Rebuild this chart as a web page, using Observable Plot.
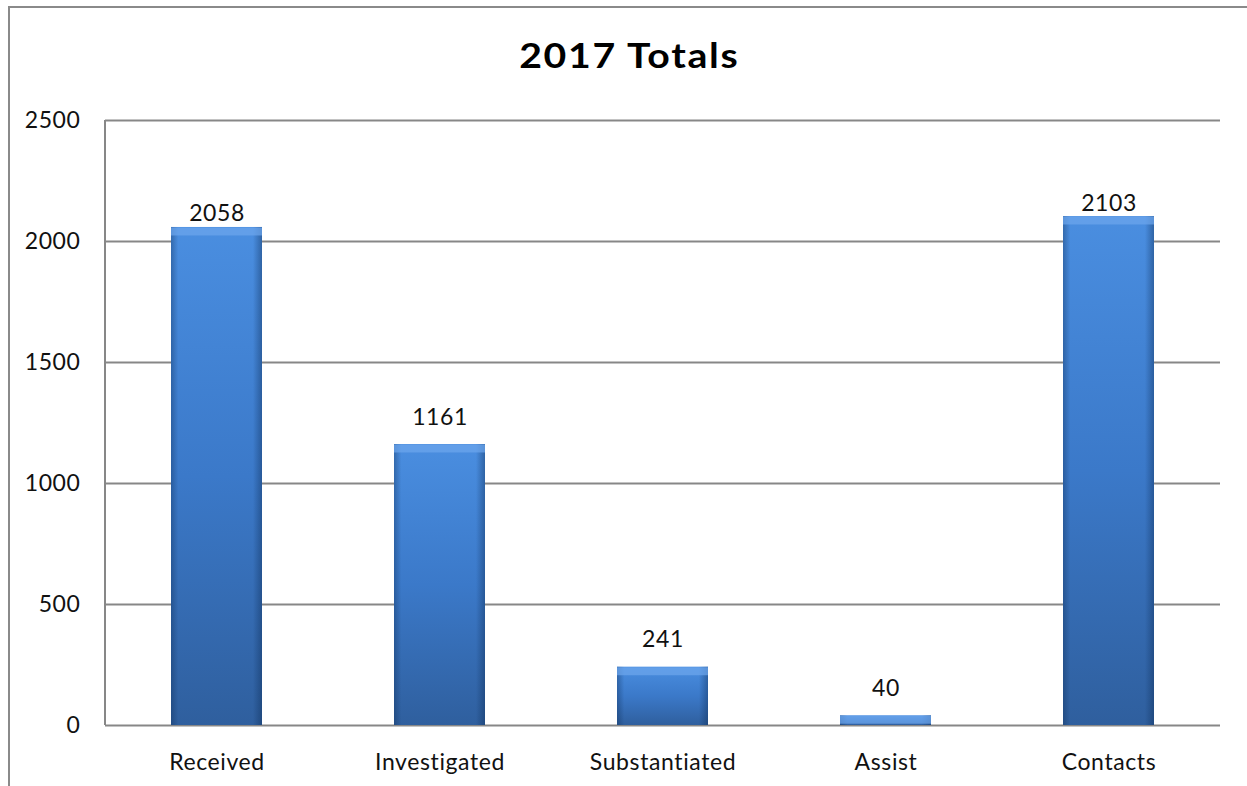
<!DOCTYPE html>
<html>
<head>
<meta charset="utf-8">
<script src="https://cdn.jsdelivr.net/npm/d3@7"></script>
<script src="https://cdn.jsdelivr.net/npm/@observablehq/plot@0.6"></script>
<style>
  html, body { margin: 0; padding: 0; background: #fff; overflow: hidden; }
  #page { position: relative; width: 1247px; height: 786px; }
  #frame { position: absolute; left: 8px; top: 6px; width: 1300px; height: 900px; border: 2px solid #8a8a8a; box-sizing: border-box; }
  #title { position: absolute; left: 0; top: 37px; width: 1258px; text-align: center; font-family: Lato, sans-serif; font-weight: 700; font-size: 35px; letter-spacing: 1.5px; line-height: 1; color: #000; }
  #title span { display: inline-block; transform: scaleX(1.12); }
  #chart { position: absolute; left: 0; top: 100px; }
  #chart svg text { letter-spacing: 0.6px; }
</style>
</head>
<body>
<div id="page">
  <div id="frame"></div>
  <div id="title"><span>2017 Totals</span></div>
  <div id="chart"></div>
</div>
<script>
const categories = ["Received", "Investigated", "Substantiated", "Assist", "Contacts"];
const values = [2058, 1161, 241, 40, 2103];
const yTicks = [0, 500, 1000, 1500, 2000, 2500];

const data = categories.map((c, i) => ({category: c, value: values[i]}));
const tall = data.filter(d => d.value >= 2000);
const short = data.filter(d => d.value < 2000);

const leftLine = (index, scales, values, dimensions) => {
  const {marginLeft, marginTop, height, marginBottom} = dimensions;
  const g = d3.create("svg:line")
    .attr("x1", marginLeft).attr("x2", marginLeft)
    .attr("y1", marginTop).attr("y2", height - marginBottom)
    .attr("stroke", "#878787").attr("stroke-width", 2);
  return g.node();
};

const chart = Plot.plot({
  width: 1247,
  height: 686,
  marginTop: 20,
  marginLeft: 105,
  marginRight: 27,
  marginBottom: 61,
  style: {fontFamily: "Lato, sans-serif", fontSize: "23px", color: "#111", background: "transparent"},
  x: {domain: categories, paddingInner: 0.59, paddingOuter: 0.295, label: null, tickSize: 0, tickPadding: 28},
  y: {domain: [0, 2500], ticks: yTicks, tickFormat: "d", label: null, tickSize: 0, tickPadding: 25},
  marks: [
    Plot.ruleY(yTicks, {stroke: "#878787", strokeWidth: 2}),
    leftLine,
    Plot.barY(data, {x: "category", y: "value", fill: "url(#vgrad)"}),
    Plot.barY(data, {x: "category", y: "value", fill: "url(#hgrad)"}),
    Plot.tickY(data, {x: "category", y: "value", stroke: "#6ea7ec", strokeOpacity: 0.7, strokeWidth: 8, dy: 4}),
    Plot.text(tall, {x: "category", y: "value", text: d => String(d.value), lineAnchor: "bottom", dy: -6, fill: "#111"}),
    Plot.text(short, {x: "category", y: "value", text: d => String(d.value), lineAnchor: "bottom", dy: -20, fill: "#111"})
  ]
});

const defs = d3.create("svg:defs");
const vg = defs.append("linearGradient").attr("id", "vgrad").attr("x1", 0).attr("y1", 0).attr("x2", 0).attr("y2", 1);
vg.append("stop").attr("offset", "0%").attr("stop-color", "#4a8ee0");
vg.append("stop").attr("offset", "50%").attr("stop-color", "#3b79c9");
vg.append("stop").attr("offset", "100%").attr("stop-color", "#2f5f9e");
const hg = defs.append("linearGradient").attr("id", "hgrad").attr("x1", 0).attr("y1", 0).attr("x2", 1).attr("y2", 0);
hg.append("stop").attr("offset", "0%").attr("stop-color", "#0a2850").attr("stop-opacity", 0.35);
hg.append("stop").attr("offset", "8%").attr("stop-color", "#0a2850").attr("stop-opacity", 0);
hg.append("stop").attr("offset", "90%").attr("stop-color", "#0a2850").attr("stop-opacity", 0);
hg.append("stop").attr("offset", "100%").attr("stop-color", "#0a2850").attr("stop-opacity", 0.4);
chart.insertBefore(defs.node(), chart.firstChild);

document.getElementById("chart").appendChild(chart);
</script>
</body>
</html>
